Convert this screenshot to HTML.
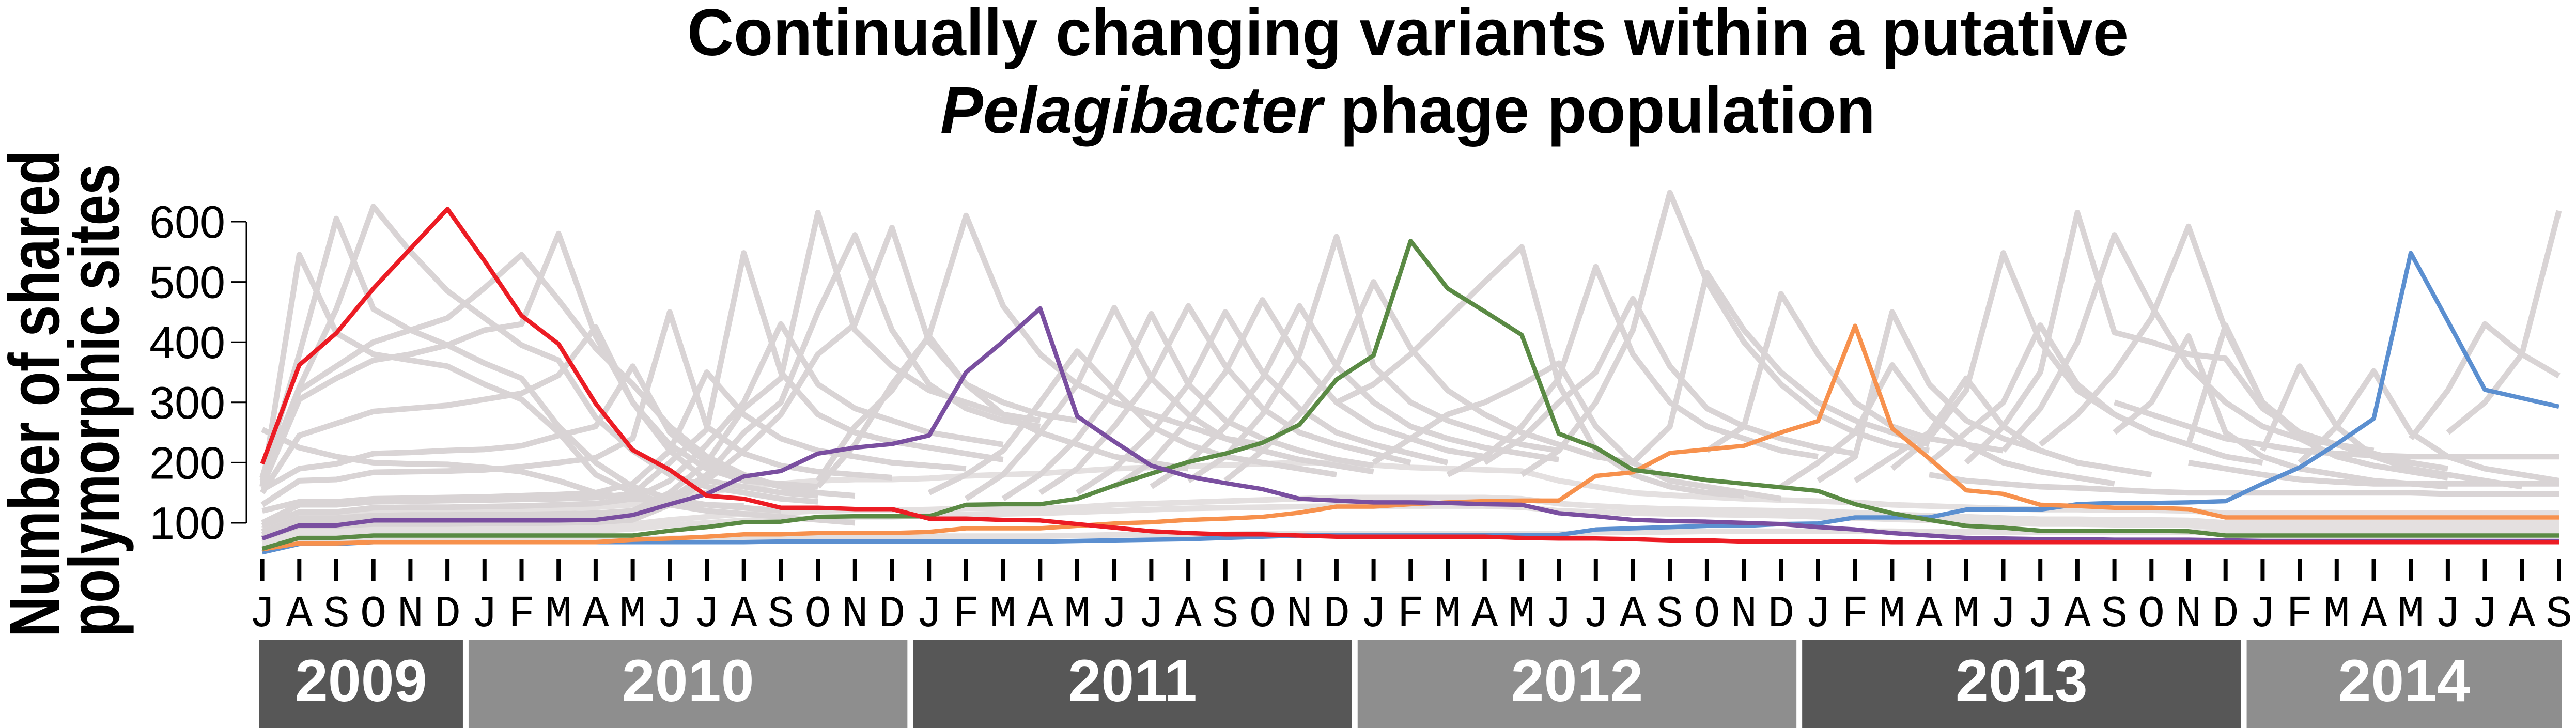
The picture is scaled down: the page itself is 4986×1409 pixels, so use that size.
<!DOCTYPE html>
<html><head><meta charset="utf-8"><style>
html,body{margin:0;padding:0;background:#fff}
svg{display:block}
</style></head><body>
<svg id="chart" width="4986" height="1409" viewBox="0 0 4986 1409" xmlns="http://www.w3.org/2000/svg">
<g id="title" font-family="Liberation Sans, sans-serif" font-weight="bold" fill="#000" text-anchor="middle">
<text x="2725" y="107" font-size="128" textLength="2790" lengthAdjust="spacingAndGlyphs">Continually changing variants within a putative</text>
<text x="2725" y="257" font-size="128" textLength="1810" lengthAdjust="spacingAndGlyphs"><tspan font-style="italic">Pelagibacter</tspan> phage population</text>
</g>
<g font-family="Liberation Sans, sans-serif" font-weight="bold" font-size="138" text-anchor="middle">
<text transform="translate(114,762) rotate(-90)" textLength="943" lengthAdjust="spacingAndGlyphs">Number of shared</text>
<text transform="translate(230,775) rotate(-90)" textLength="915" lengthAdjust="spacingAndGlyphs">polymorphic sites</text>
</g>
<g id="grid"></g>
<g id="gray"></g>
<g id="series"></g>
<g id="axes"></g>
<g id="years"></g>
</svg>
<script>
const months = ["J","A","S","O","N","D","J","F","M","A","M","J","J","A","S","O","N","D","J","F","M","A","M","J","J","A","S","O","N","D","J","F","M","A","M","J","J","A","S","O","N","D","J","F","M","A","M","J","J","A","S","O","N","D","J","F","M","A","M","J","J","A","S"];
const yTicks = [100,200,300,400,500,600];
const years = ["2009","2010","2011","2012","2013","2014"];
const yearFirstIdx = [0,6,18,30,42,54];
const yearLastIdx = [5,17,29,41,53,62];
const yearDark = [true,false,true,false,true,false];

const red = [198,362,415,489,555,621,535,444,397,298,221,188,145,140,125,125,123,123,107,107,105,104,98,92,86,83,81,81,79,77,77,77,77,77,75,74,74,73,71,71,69,69,69,69,68,68,68,68,68,68,68,68,68,68,68,68,68,68,68,68,68,68,68];
const purple = [74,96,96,104,104,104,104,104,104,105,113,131,148,177,186,215,225,231,245,350,401,456,277,235,195,177,166,156,140,137,134,134,133,131,130,116,111,105,103,102,100,98,93,89,83,79,75,74,73,73,72,72,72,71,70,70,70,70,70,70,70,70,70];
const green = [57,75,75,79,79,79,79,79,79,79,79,87,93,101,102,110,111,111,111,130,131,131,140,162,182,201,215,233,263,338,378,568,489,451,412,248,225,188,180,171,165,159,153,131,116,105,95,92,87,87,87,87,86,79,79,79,79,79,79,79,79,79,79];
const orange = [56,66,66,68,68,68,68,68,68,68,72,74,77,81,81,83,83,83,85,91,91,91,95,99,101,105,107,110,117,127,127,131,134,136,137,137,178,184,216,222,228,250,269,427,257,207,154,148,130,128,125,125,123,109,109,109,109,109,109,109,109,109,109];
const blue = [51,65,65,68,68,68,68,68,68,68,68,68,68,68,69,69,69,69,69,69,69,69,70,71,72,73,75,77,79,80,80,80,80,80,80,80,89,91,93,95,95,98,99,109,109,109,122,122,122,131,133,133,134,136,165,192,231,273,548,435,321,307,293];

const grayStarts = [0,0,0,0,0,0,0,0,0,0,0,0,0,0,0,15,15,18,19,20,21,22,23,24,25,26,29,30,32,33,34,37,39,41,42,43,44,45,46,47,48,50,52,54,55,58,59,50,52,45];
const grayValues = [
[160,545,415,380,370,360,330,305,250,180,150,130,120,115,110,105,100],
[175,380,605,455,420,395,365,340,260,200,160,140,130,125,120],
[170,325,455,625,550,485,440,395,370,275,220,180,160,150,140,135],
[160,305,340,370,380,395,420,430,580,410,300,220,170,160,150,145],
[150,245,265,285,290,295,305,315,345,425,300,230,190,170,165,160],
[255,225,210,200,198,197,192,185,170,150,140,135,130,128],
[155,190,198,215,217,220,222,228,245,260,360,250,200,175,160,150,145],
[130,170,172,184,185,186,188,193,200,208,240,450,260,215,195,185,180,175],
[120,135,135,140,141,142,143,145,147,150,165,220,350,280,240,220,210,200,195,190],
[100,130,130,135,136,137,138,139,140,142,148,200,255,548,350,280,250,235,225,215,205],
[95,118,118,125,126,126,127,128,130,132,140,170,230,300,430,330,290,270,250,240,230],
[85,108,108,112,113,113,114,114,115,116,120,150,200,290,340,615,420,360,320,300,280,270],
[80,100,100,105,105,105,106,106,107,108,112,140,180,250,300,450,578,420,330,290,270,260],
[75,95,95,98,98,98,99,99,100,101,105,130,170,220,280,380,430,590,400,330,300,280,270],
[170,320,360,400,420,440,490,545,470,390,330,260,210,180,160,150],
[160,230,330,410,610,460,380,330,300,280,260,240,230],
[170,260,320,410,330,280,250,230,210,200,190],
[150,180,220,300,385,320,260,230,210,200,190,180],
[140,180,250,330,457,340,280,240,220,205,195,185],
[140,180,240,320,447,330,270,240,220,205,195],
[150,190,260,340,460,360,290,250,230,215,200],
[150,190,250,330,450,350,290,250,230,215,200],
[160,200,270,350,470,370,300,260,240,220,210],
[160,200,260,340,460,360,300,260,240,225,215,205],
[170,210,280,380,575,360,300,270,250,230,220],
[170,220,280,360,500,390,320,280,250,230,210,200],
[300,330,380,440,500,558,330,220,180,160,150,145],
[200,240,280,300,330,365,260,200,170,160,150,140],
[180,210,260,340,525,380,300,260,240,220,210],
[200,240,300,350,472,360,290,260,240,225,215],
[180,220,300,420,648,500,400,330,280,250,230,220],
[200,260,515,420,350,300,270,250,230],
[220,260,480,380,300,260,240,230,220],
[160,200,250,362,280,230,200,185,175,165],
[170,210,450,330,270,240,220,200],
[170,210,250,340,260,220,200,190,180],
[190,240,320,548,400,320,280,250,230,210],
[200,250,300,428,330,280,250,230,210,200],
[200,260,350,615,416,400,380,373,290,250,230,210,200],
[220,290,400,578,460,360,300,260,240,230,220],
[230,280,350,440,592,420,300,250,230,215,200,190],
[250,300,410,250,210,190,180,170,165,160],
[230,428,300,240,210,195,185,175],
[220,360,260,210,190,180,170,160],
[200,260,352,250,210,190,180,170],
[240,320,430,380,344],
[250,300,380,618],
[300,280,260,240,230,220,215,212,210,210,210,210,210],
[200,190,180,172,168,165,165,165,165,165,165],
[180,170,165,160,158,155,152,150,150,150,150,150,150,150,148,148,148,148]
];
const bgLow1 = [62,70,70,72,72,72,72,72,72,72,73,74,75,76,76,77,77,77,78,78,78,78,79,80,80,80,81,82,82,82,82,82,82,82,82,82,84,85,85,86,86,86,86,86,86,85,85,85,85,85,85,85,85,84,84,84,84,84,84,84,84,84,84];
const bgLow2 = [70,88,88,92,92,92,92,93,94,95,98,105,110,115,117,120,121,121,122,124,124,124,126,130,132,134,136,138,140,142,142,142,142,142,140,132,128,125,123,122,121,120,119,117,114,112,110,108,106,106,105,105,104,100,100,100,100,100,100,100,100,100,100];
const bgLow3 = [90,110,112,118,120,120,121,122,124,126,130,140,150,160,165,170,172,172,174,178,180,182,186,190,192,194,196,198,200,200,196,192,190,188,186,170,160,150,146,143,140,138,136,134,130,128,126,124,122,122,121,121,120,116,116,116,116,116,116,116,116,116,116];
const bgLow4 = [66,80,80,84,84,84,84,85,86,87,90,96,100,104,106,108,110,110,112,114,115,116,118,120,122,124,125,126,127,128,128,128,128,128,126,120,118,116,115,114,113,112,110,108,106,104,102,100,98,98,97,97,96,92,92,92,92,92,92,92,92,92,92];

const X0 = 507.6, DX = 71.7, Y0 = 1128.6, KY = 1.166;
function xs(i){ return X0 + i*DX; }
function ys(v){ return Y0 - v*KY; }
const NS = "http://www.w3.org/2000/svg";
function mk(tag, attrs, parent){ const e = document.createElementNS(NS, tag); for (const k in attrs) e.setAttribute(k, attrs[k]); parent.appendChild(e); return e; }
function pathFrom(start, vals){ return vals.map((v,j)=>(j?"L":"M")+xs(start+j).toFixed(1)+","+ys(v).toFixed(1)).join(""); }

const gray = document.getElementById("gray");
const bgs = [bgLow1,bgLow2,bgLow3,bgLow4];
bgs.forEach((vals,k)=>{
  const p = mk("path",{d:pathFrom(0,vals),fill:"none",stroke:"#e4e0e0","stroke-width":11,"stroke-linejoin":"round"},gray);
  
  
});
grayValues.forEach((vals,k)=>{
  const p = mk("path",{d:pathFrom(grayStarts[k],vals),fill:"none",stroke:"#d9d4d5","stroke-width":11,"stroke-linejoin":"round"},gray);
  
  
});

const series = document.getElementById("series");
const colored = [[blue,"#5b8fd0","blue-variant-line"],[orange,"#f7914d","orange-variant-line"],[green,"#5a8a44","green-variant-line"],[purple,"#7a4fa0","purple-variant-line"],[red,"#ec1c24","red-variant-line"]];
colored.forEach(c=>{
  const p = mk("path",{d:pathFrom(0,c[0]),fill:"none",stroke:c[1],"stroke-width":8.5,"stroke-linejoin":"round"},series);
  
  
});

const axes = document.getElementById("axes");
const yl = mk("line",{x1:477,x2:477,y1:ys(600),y2:ys(100),stroke:"#000","stroke-width":3},axes);


yTicks.forEach(t=>{
  const l = mk("line",{x1:448,x2:477,y1:ys(t),y2:ys(t),stroke:"#000","stroke-width":3},axes);
  
  
  const tx = mk("text",{x:436,y:ys(t)+31,"text-anchor":"end","font-family":"Liberation Sans, sans-serif","font-size":88,fill:"#000"},axes);
  tx.textContent = t;
  
  
});
months.forEach((m,i)=>{
  const l = mk("line",{x1:xs(i),x2:xs(i),y1:1081,y2:1124,stroke:"#000","stroke-width":8},axes);
  
  
  const tx = mk("text",{x:xs(i),y:1212,"text-anchor":"middle","font-family":"Liberation Mono, monospace","font-size":86,fill:"#000"},axes);
  tx.textContent = m;
  
  
});

const yg = document.getElementById("years");
years.forEach((y,k)=>{
  const a = yearFirstIdx[k]===0 ? xs(0)-6 : (xs(yearFirstIdx[k])+xs(yearFirstIdx[k]-1))/2 + 5;
  const b = k===years.length-1 ? xs(yearLastIdx[k])+5 : (xs(yearLastIdx[k])+xs(yearLastIdx[k]+1))/2 - 6;
  const r = mk("rect",{x:a,y:1239,width:b-a,height:170,fill:yearDark[k]?"#575757":"#8e8e8e"},yg);
  
  
  const tx = mk("text",{x:(a+b)/2,y:1357,"text-anchor":"middle","font-family":"Liberation Sans, sans-serif","font-weight":"bold","font-size":115,fill:"#fff"},yg);
  tx.textContent = y;
  
  
});
</script>
</body></html>
